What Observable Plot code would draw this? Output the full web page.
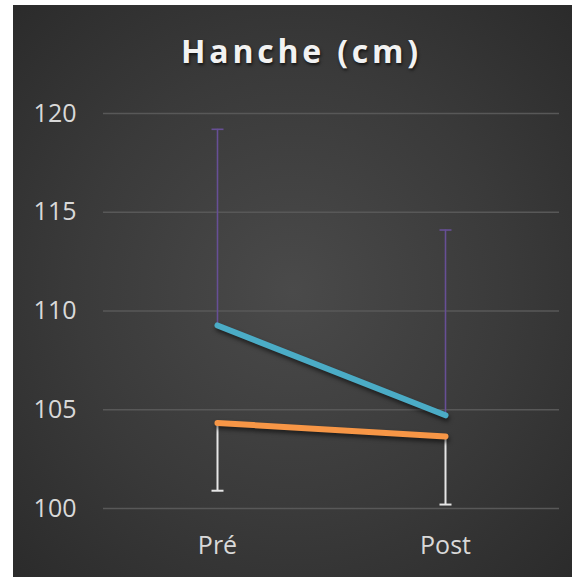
<!DOCTYPE html>
<html>
<head>
<meta charset="utf-8">
<script src="https://cdn.jsdelivr.net/npm/d3@7"></script>
<script src="https://cdn.jsdelivr.net/npm/@observablehq/plot@0.6"></script>
<style>
  html, body { margin: 0; padding: 0; background: #ffffff; }
  #panel {
    position: absolute; left: 13px; top: 5px; width: 559px; height: 572px;
    background: radial-gradient(ellipse at 50% 50%, #4a4a4a 0%, #3a3a3a 55%, #2b2b2b 100%);
    overflow: hidden;
  }
  #title {
    position: absolute; left: 0; top: 30px; width: 100%; box-sizing: border-box;
    padding-left: 18px; text-align: center;
    font-family: "Open Sans", sans-serif; font-weight: 700; font-size: 32px; line-height: 32px;
    letter-spacing: 3.8px; color: #f2f2f2;
    text-shadow: 1px 2px 3px rgba(0,0,0,0.65);
  }
  #chart { position: absolute; left: 0; top: 0; }
</style>
</head>
<body>
<div id="panel">
  <div id="chart"></div>
  <div id="title">Hanche (cm)</div>
</div>
<script>
const categories = ["Pré", "Post"];
const yTicks = [100, 105, 110, 115, 120];
const blueMean = [109.27, 104.72];
const blueUpper = [119.2, 114.1];
const orangeMean = [104.33, 103.65];
const orangeLower = [100.9, 100.2];

const blue = categories.map((c, i) => ({cat: c, mean: blueMean[i], err: blueUpper[i]}));
const orange = categories.map((c, i) => ({cat: c, mean: orangeMean[i], err: orangeLower[i]}));

const capSymbol = {
  draw(context) {
    context.moveTo(-6, 0);
    context.lineTo(6, 0);
  }
};

const plot = Plot.plot({
  width: 559,
  height: 572,
  marginLeft: 90,
  marginRight: 13,
  marginTop: 108,
  marginBottom: 69,
  style: {
    background: "transparent",
    color: "#d9d9d9",
    fontFamily: "Open Sans, sans-serif",
    fontSize: "25px"
  },
  x: {type: "point", domain: categories, padding: 0.5},
  y: {domain: [100, 120]},
  marks: [
    Plot.gridY(yTicks, {stroke: "#585858", strokeOpacity: 1, strokeWidth: 1.5}),
    Plot.axisY({ticks: yTicks, tickSize: 0, tickPadding: 27, label: null, fill: "#d9d9d9"}),
    Plot.axisX({tickSize: 0, tickPadding: 28, label: null, fill: "#d9d9d9"}),
    Plot.ruleX(blue, {x: "cat", y1: "mean", y2: "err", stroke: "#674f95", strokeWidth: 1.6}),
    Plot.dot(blue, {x: "cat", y: "err", symbol: capSymbol, stroke: "#674f95", fill: "none", strokeWidth: 1.6}),
    Plot.ruleX(orange, {x: "cat", y1: "mean", y2: "err", stroke: "#e6e6e6", strokeWidth: 2}),
    Plot.dot(orange, {x: "cat", y: "err", symbol: capSymbol, stroke: "#e6e6e6", fill: "none", strokeWidth: 2}),
    Plot.line(orange, {x: "cat", y: "mean", stroke: "#f79646", strokeWidth: 6, strokeLinecap: "round"}),
    Plot.line(blue, {x: "cat", y: "mean", stroke: "#4bacc6", strokeWidth: 6, strokeLinecap: "round"})
  ]
});
document.getElementById("chart").appendChild(plot);
plot.querySelectorAll('g[aria-label="line"]').forEach(g => {
  g.style.filter = "drop-shadow(1px 3px 2px rgba(0,0,0,0.55))";
});
</script>
</body>
</html>
